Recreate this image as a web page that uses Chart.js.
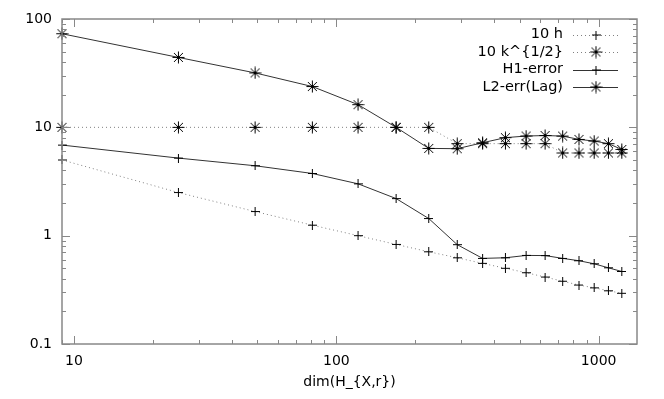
<!DOCTYPE html>
<html>
<head>
<meta charset="utf-8">
<script src="https://cdn.jsdelivr.net/npm/chart.js@4"></script>
<style>
html,body{margin:0;padding:0;background:#fff;}
#wrap{width:664px;height:399px;}
</style>
</head>
<body>
<div id="wrap"><canvas id="c" width="664" height="399"></canvas></div>
<script>
const dims = [9,25,49,81,121,169,225,289,361,441,529,625,729,841,961,1089,1225];
const tenH = [5.0,2.5,1.67,1.25,1.0,0.83,0.71,0.625,0.555,0.50,0.455,0.415,0.38,0.35,0.33,0.31,0.294];
const tenSqrtK = [10,10,10,10,10,10,10,7.07,7.07,7.07,7.07,7.07,5.8,5.8,5.8,5.8,5.8];
const h1Error = [6.86,5.2,4.42,3.75,3.01,2.20,1.44,0.826,0.617,0.625,0.657,0.655,0.617,0.587,0.55,0.505,0.467];
const l2ErrLag = [73.1,44.2,31.8,23.8,16.2,10.0,6.39,6.35,7.21,8.03,8.31,8.4,8.3,7.74,7.47,7.07,6.25];
const seriesLabels = ['10 h','10 k^{1/2}','H1-error','L2-err(Lag)'];
const xTickValues = [10,100,1000];
const yTickValues = [0.1,1,10,100];
const xTitle = 'dim(H_{X,r})';

const FONT = 'DejaVu Sans';
const pts = arr => dims.map((d,i)=>({x:d,y:arr[i]}));

function makeStar(){
  const c = document.createElement('canvas');
  c.width = 13; c.height = 13;
  const g = c.getContext('2d');
  g.strokeStyle = '#000'; g.lineWidth = 1;
  g.beginPath();
  g.moveTo(0.5,6.5); g.lineTo(12.5,6.5);
  g.moveTo(6.5,0.5); g.lineTo(6.5,12.5);
  g.moveTo(2,2); g.lineTo(11,11);
  g.moveTo(11,2); g.lineTo(2,11);
  g.stroke();
  return c;
}
function makePlus(){
  const c = document.createElement('canvas');
  c.width = 9; c.height = 9;
  const g = c.getContext('2d');
  g.strokeStyle = '#000'; g.lineWidth = 1;
  g.beginPath();
  g.moveTo(0,4.5); g.lineTo(9,4.5);
  g.moveTo(4.5,0); g.lineTo(4.5,9);
  g.stroke();
  return c;
}
const STAR = makeStar(), PLUS = makePlus();

const mk = (label, arr, dotted, style) => ({
  label, data: pts(arr),
  borderColor: dotted ? '#808080' : '#333',
  borderWidth: 1,
  borderDash: dotted ? [1,3] : [],
  pointStyle: style,
  pointRadius: 6,
  pointBorderColor: '#000',
  pointBackgroundColor: '#000',
  pointBorderWidth: 1,
  tension: 0,
  clip: false,
  dotted
});

const frameTicks = {
  id:'frameTicks',
  afterDatasetsDraw(chart){
    const {ctx, chartArea:a, scales:{x,y}} = chart;
    ctx.save();
    ctx.strokeStyle = '#888';
    ctx.lineWidth = 1;
    ctx.beginPath();
    const minor = 4, major = 8;
    for (let e=-1;e<=2;e++){
      for (let m=1;m<=9;m++){
        const v = m*Math.pow(10,e);
        if (v < y.min-1e-9 || v > y.max+1e-9) continue;
        const p = Math.round(y.getPixelForValue(v))+0.5;
        const L = m===1?major:minor;
        ctx.moveTo(a.left,p); ctx.lineTo(a.left+L,p);
        ctx.moveTo(a.right,p); ctx.lineTo(a.right-L,p);
      }
    }
    for (let e=0;e<=3;e++){
      for (let m=1;m<=9;m++){
        const v = m*Math.pow(10,e);
        if (v < x.min-1e-9 || v > x.max+1e-9) continue;
        const p = Math.round(x.getPixelForValue(v))+0.5;
        const L = m===1?major:minor;
        ctx.moveTo(p,a.bottom); ctx.lineTo(p,a.bottom-L);
        ctx.moveTo(p,a.top); ctx.lineTo(p,a.top+L);
      }
    }
    ctx.stroke();
    ctx.lineWidth = 1.5;
    ctx.strokeRect(a.left, a.top, a.right-a.left, a.bottom-a.top);
    // legend
    ctx.font = '14.5px "'+FONT+'"';
    ctx.textAlign = 'right';
    ctx.textBaseline = 'middle';
    const rows = [34.5,52,69.7,87.3];
    const tx = a.right - 74, lx0 = a.right - 64, lx1 = a.right - 19;
    chart.data.datasets.forEach((ds,i)=>{
      const yy = a.top + (rows[i]-19);
      ctx.fillStyle = '#000';
      ctx.fillText(ds.label, tx, yy);
      ctx.save();
      ctx.strokeStyle = ds.borderColor;
      ctx.lineWidth = 1;
      ctx.setLineDash(ds.borderDash);
      ctx.beginPath();
      ctx.moveTo(lx0, Math.round(yy)+0.5); ctx.lineTo(lx1, Math.round(yy)+0.5);
      ctx.stroke();
      ctx.restore();
      Chart.helpers.drawPoint(ctx, {pointStyle: ds.pointStyle, radius: ds.pointRadius, rotation:0, borderWidth:1}, Math.round((lx0+lx1)/2), Math.round(yy));
    });
    ctx.restore();
  }
};

new Chart(document.getElementById('c'), {
  type:'line',
  data:{
    datasets:[
      mk(seriesLabels[0], tenH, true, PLUS),
      mk(seriesLabels[1], tenSqrtK, true, STAR),
      mk(seriesLabels[2], h1Error, false, PLUS),
      mk(seriesLabels[3], l2ErrLag, false, STAR)
    ]
  },
  options:{
    responsive:false,
    animation:false,
    layout:{padding:{top:19,right:27,left:0,bottom:0}},
    plugins:{legend:{display:false},tooltip:{enabled:false}},
    scales:{
      x:{
        type:'logarithmic', min:9, max:1400,
        grid:{display:false, drawTicks:false},
        border:{display:false},
        afterBuildTicks(s){ s.ticks = xTickValues.map(v=>({value:v, major:true})); },
        afterFit(s){ s.height = 55; },
        ticks:{ color:'#000', font:{family:FONT,size:14}, padding:9, maxRotation:0, autoSkip:false,
          callback:(v)=>String(v) },
        title:{display:true, text:xTitle, color:'#000', font:{family:FONT,size:14}, padding:{top:2,bottom:8}}
      },
      y:{
        type:'logarithmic', min:0.1, max:100,
        grid:{display:false, drawTicks:false},
        border:{display:false},
        afterBuildTicks(s){ s.ticks = yTickValues.map(v=>({value:v, major:true})); },
        afterFit(s){ s.width = 62; },
        ticks:{ color:'#000', font:{family:FONT,size:14}, padding:10, autoSkip:false,
          callback:(v)=>String(v) }
      }
    }
  },
  plugins:[frameTicks]
});
</script>
</body>
</html>
